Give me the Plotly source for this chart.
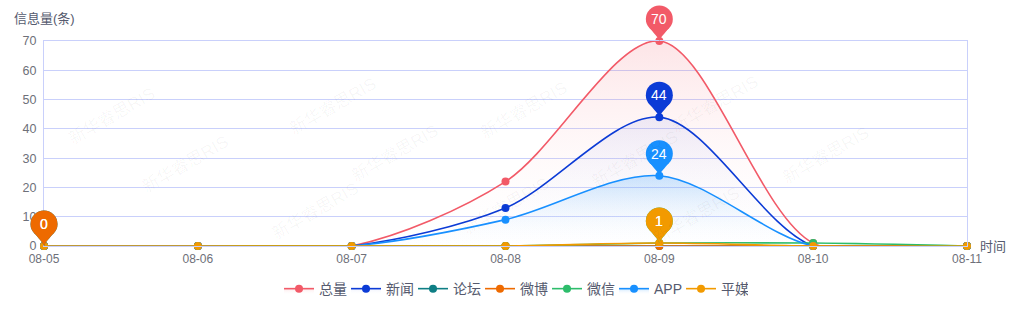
import plotly.graph_objects as go

# Daily message counts per channel
dates = ["08-05", "08-06", "08-07", "08-08", "08-09", "08-10", "08-11"]
total = [0, 0, 0, 22, 70, 1, 0]
news = [0, 0, 0, 13, 44, 0, 0]
forum = [0, 0, 0, 0, 0, 0, 0]
weibo = [0, 0, 0, 0, 0, 0, 0]
wechat = [0, 0, 0, 0, 1, 1, 0]
app = [0, 0, 0, 9, 24, 0, 0]
print_media = [0, 0, 0, 0, 1, 0, 0]

y_ticks = [0, 10, 20, 30, 40, 50, 60, 70]
Y_MAX = y_ticks[-1]

FONT = 'Helvetica, Arial, "Liberation Sans", "Noto Sans CJK SC", sans-serif'

series = [
    ("总量", total, "#f25a68", "rgba(242,90,104,0.16)"),
    ("新闻", news, "#0c3bd6", "rgba(90,110,230,0.10)"),
    ("论坛", forum, "#0e7e84", None),
    ("微博", weibo, "#ee6a00", None),
    ("微信", wechat, "#2dbd6b", None),
    ("APP", app, "#1890ff", "rgba(24,144,255,0.22)"),
    ("平媒", print_media, "#f29a00", None),
]

xs = list(range(len(dates)))
X_MAX = xs[-1]

fig = go.Figure()
for name, vals, color, fill in series:
    kw = {}
    if fill:
        kw = dict(
            fill="tozeroy",
            fillgradient=dict(
                type="vertical",
                colorscale=[[0, "rgba(255,255,255,0)"], [1, fill]],
            ),
        )
    fig.add_trace(go.Scatter(
        x=xs, y=vals, name=name, mode="lines+markers",
        line=dict(color=color, width=1.6, shape="spline", smoothing=0.9),
        marker=dict(color=color, size=8),
        cliponaxis=False,
        **kw,
    ))

# Pin markers at each series maximum (paper-referenced so they are not clipped)
shapes = []
annotations = []
for name, vals, color, _ in series:
    peak = max(vals)
    i = vals.index(peak)
    px = xs[i] / X_MAX
    py = peak / Y_MAX
    shapes.append(dict(
        type="circle", xref="paper", yref="paper",
        xsizemode="pixel", ysizemode="pixel",
        xanchor=px, yanchor=py,
        x0=-13.5, x1=13.5, y0=8.5, y1=35.5,
        fillcolor=color, line=dict(width=0), layer="above",
    ))
    shapes.append(dict(
        type="path", xref="paper", yref="paper",
        xsizemode="pixel", ysizemode="pixel",
        xanchor=px, yanchor=py,
        path="M -11,16 C -8,9 -2,6 0,0 C 2,6 8,9 11,16 Z",
        fillcolor=color, line=dict(width=0), layer="above",
    ))
    annotations.append(dict(
        x=px, y=py, xref="paper", yref="paper", yshift=22,
        xanchor="center", yanchor="middle",
        text=str(peak), showarrow=False,
        font=dict(color="white", size=14, family=FONT),
    ))

# Faint watermark
for wx, wy in [(0.02, 0.80), (0.26, 0.85), (0.52, 0.83), (0.78, 0.86),
               (0.10, 0.40), (0.38, 0.45), (0.64, 0.42), (0.90, 0.44),
               (0.24, 0.00), (0.50, 0.02), (0.76, -0.02)]:
    annotations.append(dict(
        x=wx, y=wy, xref="paper", yref="paper", text="新华睿思RIS",
        showarrow=False, textangle=-30,
        font=dict(color="rgba(0,0,0,0.04)", size=17, family=FONT),
    ))

annotations.append(dict(
    x=0, y=1.112, xref="paper", yref="paper", text="信息量(条)",
    showarrow=False, xanchor="center", yanchor="middle",
    font=dict(color="#555a6e", size=13, family=FONT),
))
annotations.append(dict(
    x=1.012, y=0, xref="paper", yref="paper", text="时间",
    showarrow=False, xanchor="left", yanchor="middle",
    font=dict(color="#555a6e", size=13, family=FONT),
))

grid_color = "#c9d0fb"
fig.update_layout(
    width=1024, height=325,
    margin=dict(l=44, r=57, t=41, b=79),
    paper_bgcolor="white", plot_bgcolor="white",
    font=dict(family=FONT, color="#6e7079", size=12),
    shapes=shapes, annotations=annotations,
    showlegend=True,
    legend=dict(
        orientation="h", x=0.5087, xanchor="center", y=-0.21, yanchor="middle",
        font=dict(size=14, color="#555a6e"), itemwidth=30,
        entrywidth=22, traceorder="normal",
    ),
    xaxis=dict(
        range=[0, X_MAX], tickvals=xs, ticktext=dates,
        showgrid=False, zeroline=False,
        showline=True, linecolor=grid_color, mirror=True,
        ticks="", ticklabelstandoff=2,
        tickfont=dict(size=12, color="#6e7079"),
    ),
    yaxis=dict(
        range=[0, Y_MAX], tickvals=y_ticks,
        showgrid=True, gridcolor=grid_color, gridwidth=1,
        zeroline=False, showline=True, linecolor=grid_color, mirror=True,
        ticks="", ticklabelstandoff=4,
        tickfont=dict(size=12.5, color="#6e7079"),
    ),
)

fig.write_html("out.html")
